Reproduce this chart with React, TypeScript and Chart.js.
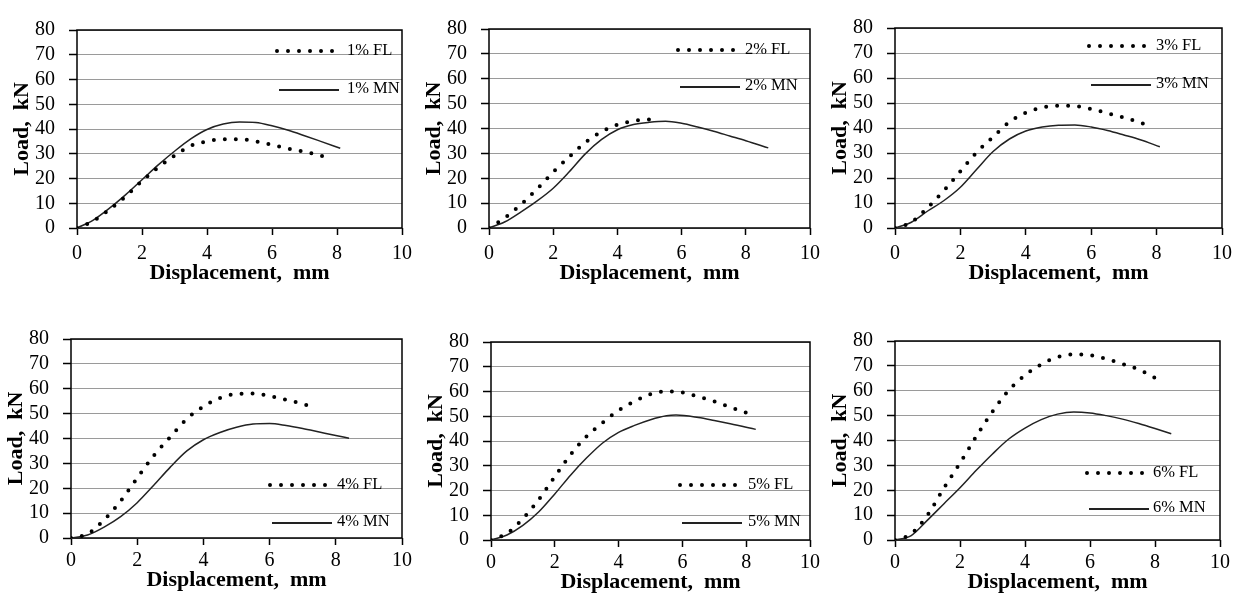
import React, { useEffect, useRef } from "react";
import { Chart, registerables } from "chart.js";

Chart.register(...registerables);

const FONT = "'Liberation Serif', 'Times New Roman', serif";

const X_TICKS = [0, 2, 4, 6, 8, 10];
const Y_TICKS = [0, 10, 20, 30, 40, 50, 60, 70, 80];
const X_TITLE = "Displacement,  mm";
const Y_TITLE = "Load,  kN";
const PANEL_LABELS = ["1%", "2%", "3%", "4%", "5%", "6%"];

// ---- 1% ----
const FL1_X = [0, 0.5, 1, 1.5, 2, 2.5, 3, 3.5, 4, 4.5, 5, 5.5, 6, 6.5, 7, 7.5, 7.75];
const FL1_Y = [0, 2.8, 7.5, 12.8, 19.0, 24.5, 29.2, 33.2, 35.0, 35.9, 35.9, 35.0, 33.6, 32.1, 30.8, 29.2, 28.3];
const MN1_X = [0, 0.5, 1, 1.5, 2, 2.5, 3, 3.5, 4, 4.5, 5, 5.5, 6, 6.5, 7, 7.5, 8.1];
const MN1_Y = [0, 3.2, 8.0, 13.5, 19.5, 25.5, 31.0, 36.0, 39.8, 42.0, 42.8, 42.6, 41.3, 39.5, 37.3, 35.0, 32.2];

// ---- 2% ----
const FL2_X = [0, 0.5, 1, 1.5, 2, 2.5, 3, 3.5, 4, 4.5, 5, 5.25];
const FL2_Y = [0, 4.2, 9.5, 15.7, 22.5, 28.6, 34.4, 38.6, 41.5, 43.0, 43.6, 43.6];
const MN2_X = [0, 0.5, 1, 1.5, 2, 2.5, 3, 3.5, 4, 4.5, 5, 5.5, 6, 6.5, 7, 7.5, 8, 8.7];
const MN2_Y = [0, 2.5, 6.5, 10.9, 16.0, 22.6, 29.8, 35.5, 39.5, 41.6, 42.5, 42.9, 42.1, 40.6, 38.9, 37.0, 35.1, 32.2];

// ---- 3% ----
const FL3_X = [0, 0.5, 1, 1.5, 2, 2.5, 3, 3.5, 4, 4.5, 5, 5.5, 6, 6.5, 7, 7.5, 7.72];
const FL3_Y = [0, 2.3, 8.2, 15.0, 22.7, 30.3, 36.4, 42.4, 46.1, 48.2, 48.9, 48.8, 47.6, 45.9, 44.2, 42.2, 41.1];
const MN3_X = [0, 0.5, 1, 1.5, 2, 2.5, 3, 3.5, 4, 4.5, 5, 5.5, 6, 6.5, 7, 7.5, 8.1];
const MN3_Y = [0, 2.3, 6.8, 11.0, 16.3, 23.5, 30.6, 35.6, 38.8, 40.4, 41.1, 41.2, 40.4, 39.0, 37.2, 35.3, 32.5];

// ---- 4% ----
const FL4_X = [0, 0.5, 1, 1.5, 2, 2.5, 3, 3.5, 4, 4.5, 5, 5.5, 6, 6.5, 7, 7.25];
const FL4_Y = [0, 1.7, 7.3, 14.9, 24.1, 33.1, 40.6, 47.9, 52.8, 56.3, 57.9, 58.1, 57.1, 55.6, 53.9, 52.9];
const MN4_X = [0, 0.5, 1, 1.5, 2, 2.5, 3, 3.5, 4, 4.5, 5, 5.5, 6, 6.5, 7, 7.5, 8, 8.4];
const MN4_Y = [0, 1.2, 4.4, 8.6, 14.2, 21.2, 28.5, 35.0, 39.5, 42.4, 44.5, 45.8, 46.0, 45.2, 44.0, 42.6, 41.2, 40.1];

// ---- 5% ----
const FL5_X = [0, 0.5, 1, 1.5, 2, 2.5, 3, 3.5, 4, 4.5, 5, 5.5, 6, 6.5, 7, 7.5, 8];
const FL5_Y = [0, 2.7, 8.6, 16.4, 25.6, 34.6, 41.9, 47.4, 52.4, 56.0, 58.9, 60.1, 59.6, 57.9, 56.0, 53.7, 51.4];
const MN5_X = [0, 0.5, 1, 1.5, 2, 2.5, 3, 3.5, 4, 4.5, 5, 5.5, 5.8, 6.5, 7, 7.5, 8.3];
const MN5_Y = [0, 2.0, 5.9, 11.4, 18.6, 26.3, 33.2, 39.2, 43.5, 46.3, 48.6, 50.2, 50.5, 49.5, 48.3, 47.0, 44.7];

// ---- 6% ----
const FL6_X = [0, 0.5, 1, 1.5, 2, 2.5, 3, 3.5, 4, 4.5, 5, 5.5, 6, 6.5, 7, 7.5, 8.1];
const FL6_Y = [0, 2.5, 10.0, 20.8, 30.9, 41.6, 51.6, 60.2, 66.2, 70.6, 73.5, 74.6, 74.3, 72.8, 70.8, 68.5, 64.5];
const MN6_X = [0, 0.5, 1, 1.5, 2, 2.5, 3, 3.5, 4, 4.5, 5, 5.5, 6, 6.5, 7, 7.5, 8, 8.5];
const MN6_Y = [0, 1.8, 8.0, 14.5, 21.0, 28.0, 34.6, 40.6, 45.0, 48.4, 50.6, 51.5, 51.1, 50.0, 48.6, 46.8, 44.8, 42.7];

const SERIES = [
  { flx: FL1_X, fly: FL1_Y, mnx: MN1_X, mny: MN1_Y },
  { flx: FL2_X, fly: FL2_Y, mnx: MN2_X, mny: MN2_Y },
  { flx: FL3_X, fly: FL3_Y, mnx: MN3_X, mny: MN3_Y },
  { flx: FL4_X, fly: FL4_Y, mnx: MN4_X, mny: MN4_Y },
  { flx: FL5_X, fly: FL5_Y, mnx: MN5_X, mny: MN5_Y },
  { flx: FL6_X, fly: FL6_Y, mnx: MN6_X, mny: MN6_Y },
];

// Layout (plot-area rectangles in page pixels, legend placement)
const LAYOUT = [
  { l: 77, t: 18, r: 402, b: 228, sample: 125, text: 55, from: "top", rows: [21, 60], xPad: 7, tPad: 1 },
  { l: 489, t: 17, r: 810, b: 228, sample: 132, text: 65, from: "top", rows: [21, 58], xPad: 7, tPad: 1 },
  { l: 895, t: 16, r: 1222, b: 228, sample: 133, text: 66, from: "top", rows: [18, 57], xPad: 7, tPad: 1 },
  { l: 71, t: 327, r: 402, b: 538, sample: 132, text: 65, from: "bottom", rows: [53, 15], xPad: 4, tPad: 4 },
  { l: 491, t: 330, r: 810, b: 540, sample: 130, text: 62, from: "bottom", rows: [55, 17], xPad: 4, tPad: 4 },
  { l: 895, t: 329, r: 1220, b: 540, sample: 133, text: 67, from: "bottom", rows: [67, 31], xPad: 4, tPad: 4 },
];

const Y_AXIS_W = 72;
const X_AXIS_H = 60;
const PAD_T = 14;
const PAD_R = 18;

const framePlugin = {
  id: "frame",
  beforeDatasetsDraw(chart: any) {
    const { ctx, chartArea } = chart;
    ctx.save();
    ctx.strokeStyle = "#000";
    ctx.lineWidth = 1.5;
    ctx.strokeRect(chartArea.left, chartArea.top, chartArea.right - chartArea.left, chartArea.bottom - chartArea.top);
    ctx.restore();
  },
};

const legendPlugin = {
  id: "inlineLegend",
  afterDatasetsDraw(chart: any, _args: any, opts: any) {
    const { ctx, chartArea } = chart;
    const lay = opts.layout;
    const ds = chart.data.datasets;
    const sx = chartArea.right - lay.sample;
    const tx = chartArea.right - lay.text;
    const ys = lay.rows.map((v: number) => (lay.from === "top" ? chartArea.top + v : chartArea.bottom - v));
    ctx.save();
    // FL row
    ctx.strokeStyle = "#000";
    ctx.lineCap = "round";
    ctx.lineWidth = 4;
    ctx.setLineDash([0, 11]);
    ctx.beginPath();
    ctx.moveTo(sx, ys[0]);
    ctx.lineTo(sx + 55.5, ys[0]);
    ctx.stroke();
    // MN row
    ctx.setLineDash([]);
    ctx.lineCap = "butt";
    ctx.lineWidth = 2;
    ctx.strokeStyle = "#222";
    ctx.beginPath();
    ctx.moveTo(sx + 2, ys[1]);
    ctx.lineTo(sx + 62, ys[1]);
    ctx.stroke();
    ctx.fillStyle = "#000";
    ctx.font = "16.5px " + FONT;
    ctx.textBaseline = "middle";
    ctx.textAlign = "left";
    ctx.fillText(ds[0].label, tx, ys[0]);
    ctx.fillText(ds[1].label, tx, ys[1] - 1);
    ctx.restore();
  },
};

function zip(xs: number[], ys: number[]) {
  return xs.map((x, i) => ({ x, y: ys[i] }));
}

function Panel({ idx }: { idx: number }) {
  const ref = useRef<HTMLCanvasElement | null>(null);
  const lay = LAYOUT[idx];
  const s = SERIES[idx];
  const w = lay.r - lay.l + Y_AXIS_W + PAD_R;
  const h = lay.b - lay.t + PAD_T + X_AXIS_H;
  useEffect(() => {
    if (!ref.current) return;
    const chart = new Chart(ref.current, {
      type: "line",
      data: {
        datasets: [
          {
            label: PANEL_LABELS[idx] + " FL",
            data: zip(s.flx, s.fly),
            borderColor: "#000",
            borderWidth: 4,
            borderDash: [0, 11],
            borderCapStyle: "round",
            pointRadius: 0,
            cubicInterpolationMode: "monotone",
            fill: false,
          },
          {
            label: PANEL_LABELS[idx] + " MN",
            data: zip(s.mnx, s.mny),
            borderColor: "#222",
            borderWidth: 1.5,
            pointRadius: 0,
            cubicInterpolationMode: "monotone",
            fill: false,
          },
        ],
      },
      options: {
        responsive: false,
        animation: false,
        devicePixelRatio: 1,
        layout: { padding: { left: 0, top: PAD_T, right: PAD_R, bottom: 0 } },
        plugins: {
          legend: { display: false },
          tooltip: { enabled: false },
          inlineLegend: { layout: lay },
        } as any,
        scales: {
          x: {
            type: "linear",
            min: 0,
            max: 10,
            afterBuildTicks: (sc: any) => {
              sc.ticks = X_TICKS.map((v) => ({ value: v }));
            },
            afterFit: (sc: any) => {
              sc.height = X_AXIS_H;
            },
            grid: { drawOnChartArea: false, tickColor: "#000", tickLength: 7, tickWidth: 1.5 },
            border: { display: false },
            ticks: {
              font: { family: FONT, size: 20 },
              color: "#000",
              padding: lay.xPad,
              maxRotation: 0,
              autoSkip: false,
            },
            title: {
              display: true,
              text: X_TITLE,
              font: { family: FONT, size: 22, weight: "bold" },
              color: "#000",
              padding: { top: 0, bottom: lay.tPad },
            },
          },
          y: {
            type: "linear",
            min: 0,
            max: 80,
            afterBuildTicks: (sc: any) => {
              sc.ticks = Y_TICKS.map((v) => ({ value: v }));
            },
            afterFit: (sc: any) => {
              sc.width = Y_AXIS_W;
            },
            grid: { color: "#9a9a9a", lineWidth: 1, tickColor: "#000", tickLength: 8, tickWidth: 1.5 },
            border: { display: false },
            ticks: {
              font: { family: FONT, size: 20 },
              color: "#000",
              padding: 14,
              autoSkip: false,
            },
            title: {
              display: true,
              text: Y_TITLE,
              font: { family: FONT, size: 22, weight: "bold" },
              color: "#000",
              padding: { top: 4, bottom: 0 },
            },
          },
        },
      } as any,
      plugins: [framePlugin, legendPlugin],
    });
    return () => chart.destroy();
  }, [idx]);
  return (
    <canvas
      ref={ref}
      width={w}
      height={h}
      style={{
        position: "absolute",
        left: lay.l - Y_AXIS_W,
        top: lay.t - PAD_T,
        width: w,
        height: h,
      }}
    />
  );
}

export default function App() {
  return (
    <div
      style={{
        position: "fixed",
        left: 0,
        top: 0,
        width: 1244,
        height: 599,
        overflow: "hidden",
        background: "#fff",
      }}
    >
      {LAYOUT.map((_, i) => (
        <Panel key={i} idx={i} />
      ))}
    </div>
  );
}
